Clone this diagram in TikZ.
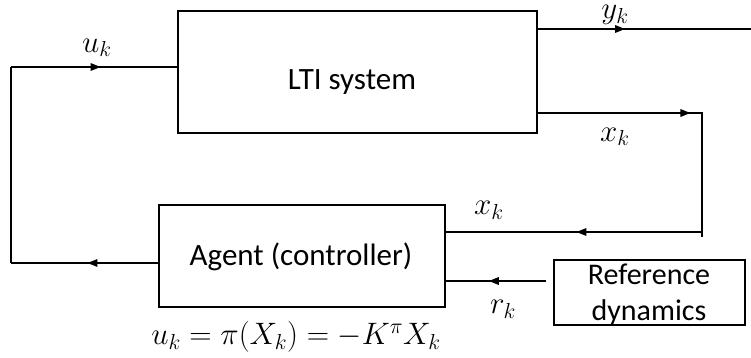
\RequirePackage{fix-cm}
\documentclass[tikz,border=0pt]{standalone}
\usepackage{fontspec}
\setmainfont{Carlito}
\usetikzlibrary{arrows.meta,decorations.markings}
\tikzset{
  x=1pt, y=-1pt,
  wire/.style={line width=1.6pt},
  block/.style={draw, line width=1.6pt, inner sep=0pt, anchor=north west},
  lbl/.style={font=\fontsize{31}{37}\selectfont},
  sig/.style={inner sep=0pt, font=\fontsize{31}{37}\selectfont},
  midarrow/.style={postaction={decorate}, decoration={markings,
    mark=at position #1 with {\arrow{Triangle[length=10pt,width=7.5pt]}}}}
}
\begin{document}
\begin{tikzpicture}
\useasboundingbox (0,0) rectangle (751,358);

% blocks
\node[block, minimum width=359pt, minimum height=122pt] (lti) at (177,10) {};
\node[block, minimum width=286pt, minimum height=102pt] (agent) at (158,204) {};
\node[block, minimum width=191pt, minimum height=65pt] (ref) at (553,259) {};

% block texts
\node[lbl, anchor=base] (ltitxt) at (352,90) {LTI system};
\node[lbl, anchor=base] (agenttxt) at (301,265) {Agent (controller)};
\node[lbl, anchor=base, font=\fontsize{30}{36}\selectfont] (reftxt1) at (649,284) {Reference};
\node[lbl, anchor=base, font=\fontsize{30}{36}\selectfont] (reftxt2) at (649,320) {dynamics};

% wire corners and free ends
\coordinate (ul) at (11,67);
\coordinate (bl) at (11,263);
\coordinate (yend) at (751,29);
\coordinate (xr) at (702,113);
\coordinate (xrb) at (702,237);
\coordinate (xin) at (702,232);
\coordinate (rstart) at (546,281);

% feedback path: agent output back to the plant input
\draw[wire, midarrow=0.48] (agent.west |- bl) -- (bl);
\draw[wire] (bl) -- (ul);
\draw[wire, midarrow=0.54] (ul) -- (lti.west |- ul);

% plant outputs
\draw[wire, midarrow=0.41] (lti.east |- yend) -- (yend);
\draw[wire, midarrow=0.53] (lti.east |- xr) -- (xr) -- (xrb);
\draw[wire, midarrow=0.49] (xin) -- (agent.east |- xin);

% reference signal
\draw[wire, midarrow=0.57] (rstart) -- (agent.east |- rstart);

% signal labels
\node[sig] (uk) at (97,48) {$u_k$};
\node[sig] (yk) at (615,15) {$y_k$};
\node[sig] (xk1) at (615,137) {$x_k$};
\node[sig] (xk2) at (489,210) {$x_k$};
\node[sig] (rk) at (503,309) {$r_k$};
\node[sig] (law) at (296,337) {$u_k=\pi(X_k)=-K^{\pi}X_k$};
\end{tikzpicture}
\end{document}
